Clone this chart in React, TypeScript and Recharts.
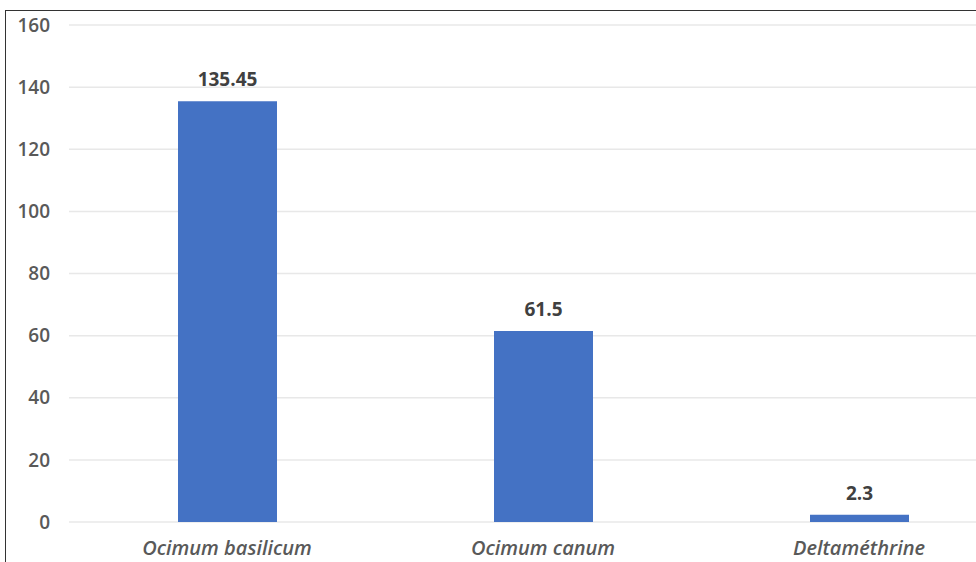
import React from 'react';
import { BarChart, Bar, XAxis, YAxis, CartesianGrid, LabelList } from 'recharts';

const categories = ['Ocimum basilicum', 'Ocimum canum', 'Deltaméthrine'];
const values = [135.45, 61.5, 2.3];
const yTicks = [0, 20, 40, 60, 80, 100, 120, 140, 160];

const data = categories.map((name, i) => ({ name, value: values[i] }));

const font = '"Open Sans", "Liberation Sans", sans-serif';

export default function App() {
  return (
    <div
      style={{
        position: 'fixed',
        left: 0,
        top: 0,
        width: 976,
        height: 562,
        overflow: 'hidden',
        background: '#fff',
        fontFamily: font,
      }}
    >
      <div
        style={{
          position: 'absolute',
          left: 5,
          top: 10,
          width: 1000,
          height: 600,
          borderLeft: '1.5px solid #333',
          borderTop: '1.5px solid #333',
        }}
      />
      <div style={{ position: 'absolute', left: 0, top: 0 }}>
        <BarChart
          width={1017}
          height={562}
          data={data}
          margin={{ top: 25, right: 0, bottom: 10, left: 0 }}
          barSize={99}
        >
          <CartesianGrid vertical={false} stroke="#e8e8e8" strokeWidth={1.5} />
          <XAxis
            dataKey="name"
            height={30}
            axisLine={false}
            tickLine={false}
            tickMargin={13}
            tick={{ fill: '#595959', fontSize: 20, fontStyle: 'italic', fontWeight: 600, fontFamily: font }}
          />
          <YAxis
            width={69}
            domain={[0, 160]}
            ticks={yTicks}
            axisLine={false}
            tickLine={false}
            tickMargin={13}
            tick={{ fill: '#595959', fontSize: 19, fontWeight: 600, fontFamily: font }}
          />
          <Bar dataKey="value" fill="#4472C4" isAnimationActive={false}>
            <LabelList
              dataKey="value"
              position="top"
              offset={15}
              style={{ fill: '#404040', fontSize: 19, fontWeight: 700, fontFamily: font }}
            />
          </Bar>
        </BarChart>
      </div>
    </div>
  );
}
